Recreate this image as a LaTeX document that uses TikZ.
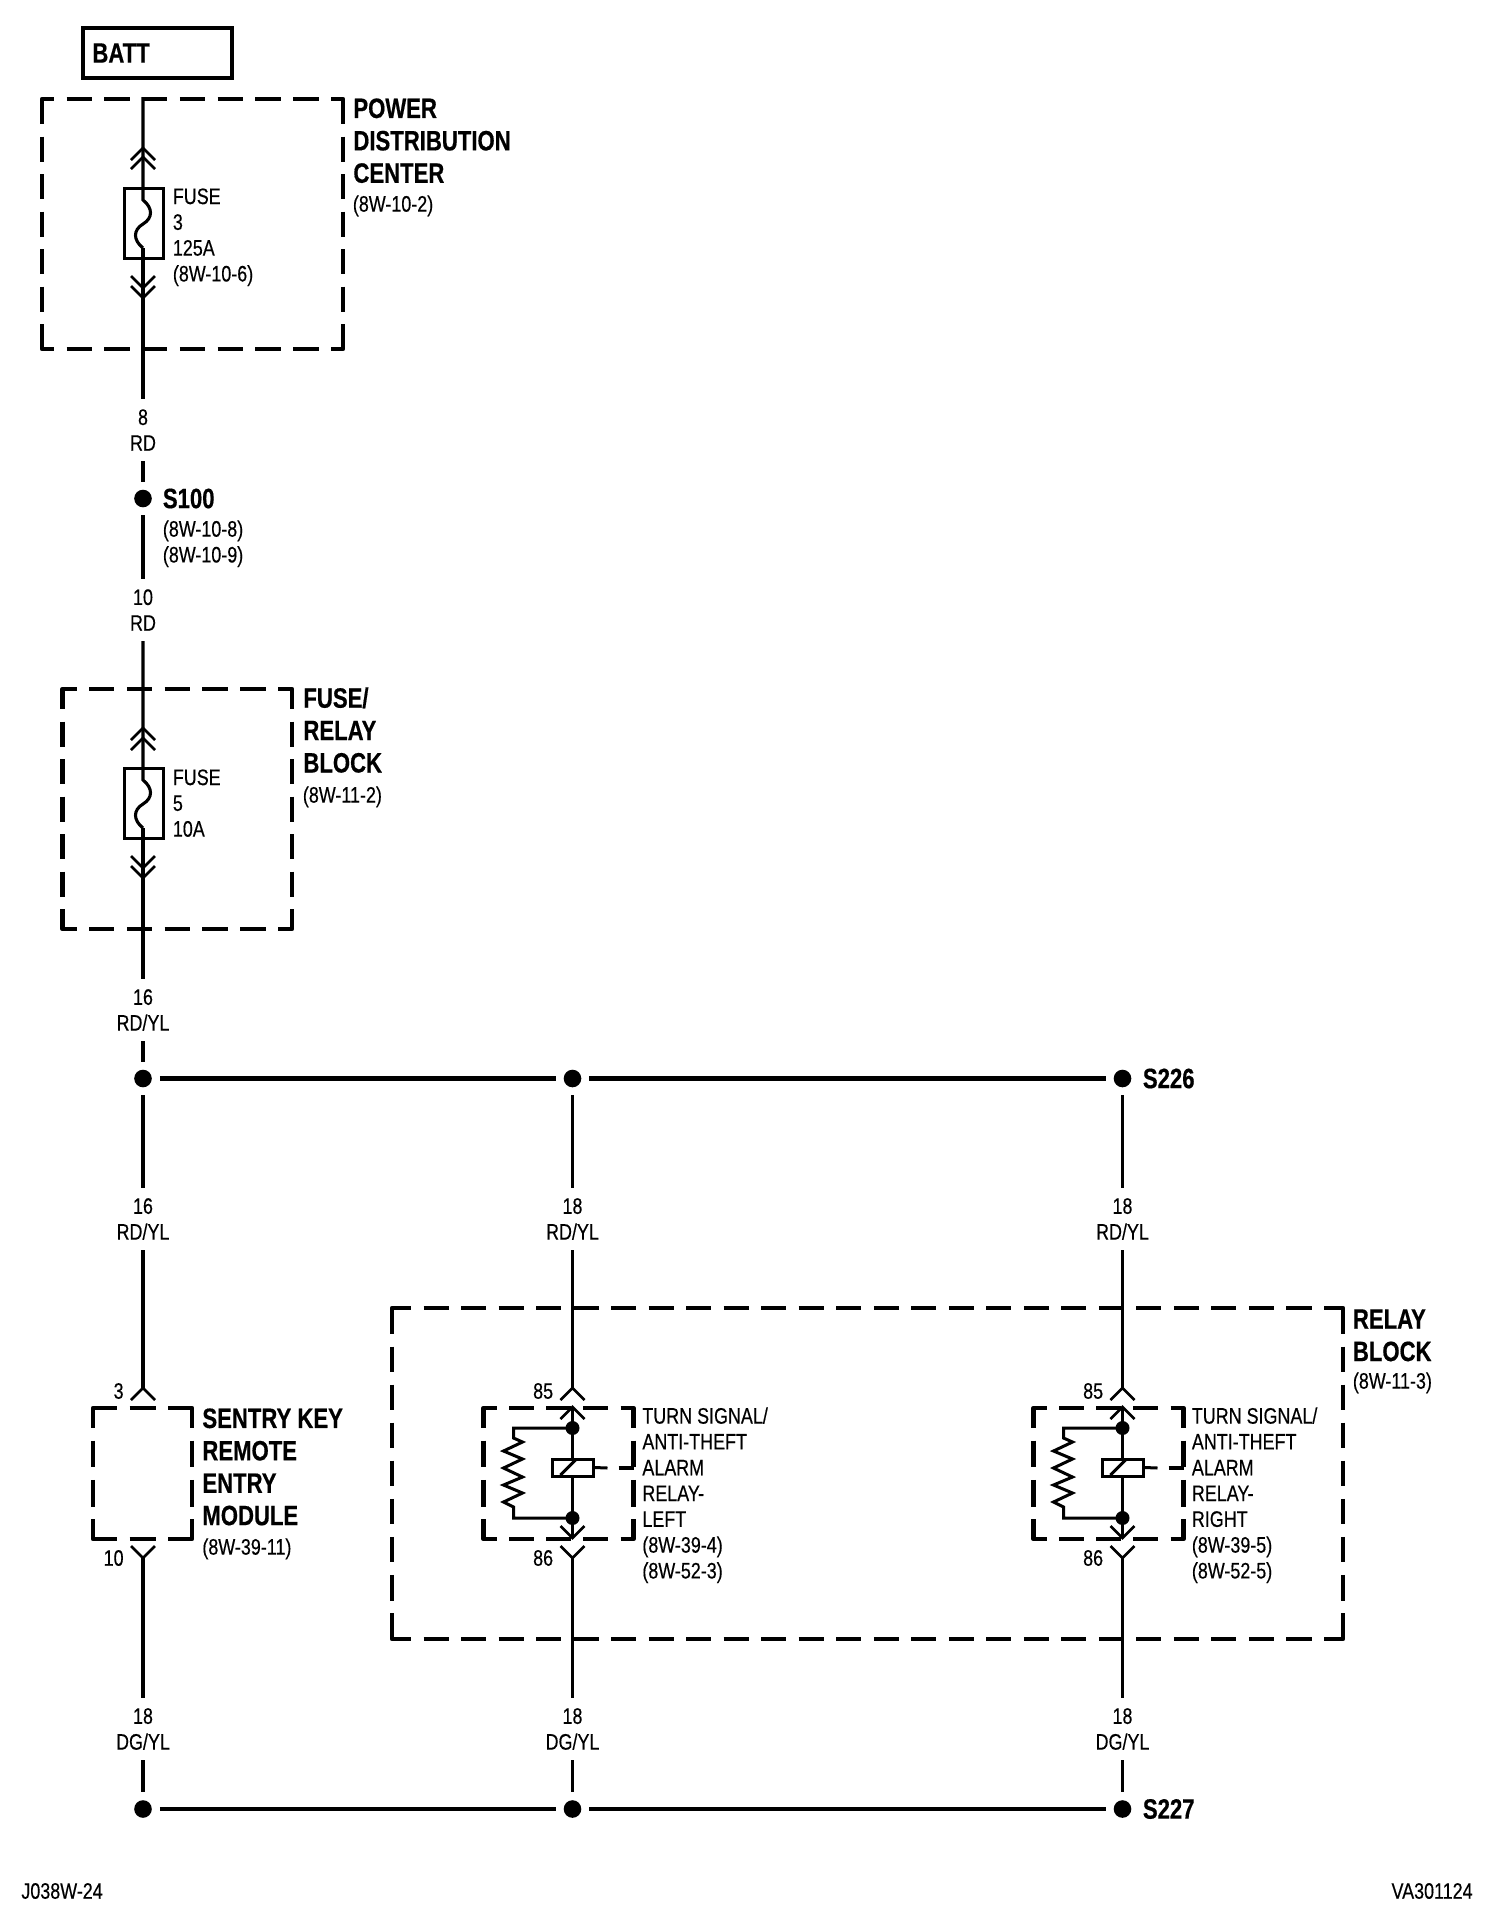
\documentclass[tikz,border=0pt]{standalone}
\usepackage{fontspec}
\setmainfont{Liberation Sans}[FakeStretch=0.8,FakeBold=0.35,BoldFeatures={FakeStretch=0.79,FakeBold=0.5}]
\newcommand{\regfont}{\fontsize{11.2}{12.9}\selectfont}
\newcommand{\headfont}{\fontsize{14}{16.2}\selectfont\bfseries}
\tikzset{
  wire/.style={line width=1.55pt,line cap=butt,line join=miter},
  bus/.style={line width=2.2pt},
  thin part/.style={line width=1.5pt,line join=miter},
  box edge/.style={line width=2.2pt},
  chevron/.style={line width=1.3pt,line join=miter},
  junction/.style={circle,fill=black,inner sep=0pt,minimum size=8.8pt,outer sep=4pt},
  tap/.style={circle,fill=black,inner sep=0pt,minimum size=7pt,outer sep=0pt},
  wirelabel/.style={font=\regfont,align=center,inner xsep=0pt,inner ysep=5pt},
  reglabel/.style={font=\regfont,align=left,inner sep=0pt,anchor=north west},
  headlabel/.style={font=\headfont,align=left,inner sep=0pt,anchor=north west},
  pinlabel/.style={font=\regfont,inner sep=0pt,anchor=east},
}
% x1 y1 x2 y2 nh nv armx army
\newcommand{\dashedbox}[8]{%
  \pgfmathsetmacro\dhp{0.5*(#3-#1-2*#7-(#5+1)*12.5)/#5}%
  \pgfmathsetmacro\dvp{0.5*(#4-#2-2*#8-(#6+1)*12.5)/#6}%
  \pgfmathsetmacro\phh{\dhp-0.5*#7}%
  \pgfmathsetmacro\phv{\dvp-0.5*#8}%
  \draw[box edge,dash pattern=on \dhp pt off 6.25pt,dash phase=\phh pt] (#1,#2)--(#3,#2) (#1,#4)--(#3,#4);
  \draw[box edge,dash pattern=on \dvp pt off 6.25pt,dash phase=\phv pt] (#1,#2)--(#1,#4) (#3,#2)--(#3,#4);
  \draw[box edge,line join=round] (#1,#2+4)--(#1,#2)--(#1+4,#2) (#3-4,#2)--(#3,#2)--(#3,#2+4)
     (#3,#4-4)--(#3,#4)--(#3-4,#4) (#1+4,#4)--(#1,#4)--(#1,#4-4);
}
\newcommand{\chevup}[2]{\draw[chevron] (#1-12,#2+12)--(#1,#2)--(#1+12,#2+12);}
\newcommand{\chevdown}[2]{\draw[chevron] (#1-12,#2-12)--(#1,#2)--(#1+12,#2-12);}
\begin{document}
\begin{tikzpicture}[x=0.5pt,y=-0.5pt]
\useasboundingbox (0,0) rectangle (1504,1908);
\fill[white] (0,0) rectangle (1504,1908);

% BATT
\draw[line width=2pt] (83,28) rectangle (232,78);
\node[font=\headfont,inner sep=0pt,anchor=west] (batt) at (92,53) {BATT};

% Power distribution centre
\dashedbox{42}{99}{343}{349}{7}{5}{12}{25}
\node[headlabel] (pdc) at (353,98) {POWER\\DISTRIBUTION\\CENTER};
\node[reglabel] (pdcref) at (352.5,195) {(8W-10-2)};
\draw[thin part] (124,188) rectangle (163,258);
\node[reglabel] (fuse3) at (172.5,188) {FUSE\\3\\125A\\(8W-10-6)};
\coordinate (a0) at (143,97);
\coordinate (a1) at (143,200);
\coordinate (a2) at (143,248);
\draw[wire] (a0)--(a1) .. controls (153,208) and (153,218) .. (143,224)
   .. controls (133,230) and (133,240) .. (a2);
\chevup{143}{148}\chevup{143}{157}
\chevdown{143}{288}\chevdown{143}{298}
\node[wirelabel] (w8) at (143,430) {8\\RD};
\draw[wire] (a2)--(w8.north);

% S100
\node[junction] (s100) at (143,498.5) {};
\node[font=\headfont,inner sep=0pt,anchor=west] (s100t) at (162.5,498.5) {S100};
\node[reglabel] (s100r) at (162.5,520) {(8W-10-8)\\(8W-10-9)};
\draw[wire] (w8.south)--(s100);
\node[wirelabel] (w10) at (143,610) {10\\RD};
\draw[wire] (s100)--(w10.north);

% Fuse / relay block
\dashedbox{62.5}{689}{292}{929}{5}{5}{14}{20}
\node[headlabel] (frb) at (303,687) {FUSE/\\RELAY\\BLOCK};
\node[reglabel] (frbref) at (302.5,786) {(8W-11-2)};
\draw[thin part] (124,768) rectangle (163,838);
\node[reglabel] (fuse5) at (172.5,769) {FUSE\\5\\10A};
\coordinate (b1) at (143,780);
\coordinate (b2) at (143,828);
\draw[wire] (w10.south)--(b1) .. controls (153,788) and (153,798) .. (143,804)
   .. controls (133,810) and (133,820) .. (b2);
\chevup{143}{728}\chevup{143}{738}
\chevdown{143}{868}\chevdown{143}{878}
\node[wirelabel] (w16a) at (143,1010) {16\\RD/YL};
\draw[wire] (b2)--(w16a.north);

% Upper bus
\node[junction] (j1) at (143,1078.5) {};
\node[junction] (j2) at (572.5,1078.5) {};
\node[junction] (j3) at (1122.5,1078.5) {};
\node[font=\headfont,inner sep=0pt,anchor=west] (s226) at (1142.5,1078.5) {S226};
\draw[wire] (w16a.south)--(j1);
\draw[bus] (j1)--(j2);
\draw[bus] (j2)--(j3);

% Lower bus
\node[junction] (k1) at (143,1809) {};
\node[junction] (k2) at (572.5,1809) {};
\node[junction] (k3) at (1122.5,1809) {};
\node[font=\headfont,inner sep=0pt,anchor=west] (s227) at (1142.5,1809) {S227};
\draw[bus] (k1)--(k2);
\draw[bus] (k2)--(k3);

% Sentry key module
\node[wirelabel] (w16b) at (143,1219) {16\\RD/YL};
\draw[wire] (j1)--(w16b.north);
\coordinate (c1) at (143,1388);
\coordinate (c2) at (143,1558);
\draw[wire] (w16b.south)--(c1);
\chevup{143}{1388}
\chevdown{143}{1558}
\dashedbox{93}{1408}{192}{1539}{1}{2}{24}{20}
\node[pinlabel] (p3) at (124,1391) {3};
\node[pinlabel] (p10) at (124,1558) {10};
\node[headlabel] (sk) at (202,1408) {SENTRY KEY\\REMOTE\\ENTRY\\MODULE};
\node[reglabel] (skref) at (202,1538) {(8W-39-11)};
\node[wirelabel] (w18a) at (143,1729) {18\\DG/YL};
\draw[wire] (c2)--(w18a.north);
\draw[wire] (w18a.south)--(k1);

% Relay block
\dashedbox{392}{1308}{1343}{1639}{24}{7}{19}{26}
\node[headlabel] (rb) at (1352.5,1309) {RELAY\\BLOCK};
\node[reglabel] (rbref) at (1352.5,1372) {(8W-11-3)};

% Relay units
\newcommand{\relayunit}[3]{%
\begin{scope}[shift={(#2,0)}]
  \node[wirelabel] (#1top) at (572,1219) {18\\RD/YL};
  \node[wirelabel] (#1bot) at (572,1729) {18\\DG/YL};
  \coordinate (#1in) at (572,1388);
  \coordinate (#1inb) at (572,1407);
  \coordinate (#1out) at (572,1538);
  \coordinate (#1outb) at (572,1558);
  \node[tap] (#1d1) at (572,1428) {};
  \node[tap] (#1d2) at (572,1518) {};
  \node[draw,thin part,inner sep=0pt,minimum width=20.5pt,minimum height=8.5pt] (#1coil) at (572,1467.5) {};
  \draw[wire] (#3) -- (#1top.north);
  \draw[wire] (#1top.south)--(#1in);
  \draw[wire] (#1inb)--(#1d1.center)--(#1coil.north);
  \draw[wire] (#1coil.south)--(#1d2.center)--(#1out);
  \draw[wire] (#1outb)--(#1bot.north);
  \chevup{572}{1388}\chevup{572}{1407}
  \chevdown{572}{1538}\chevdown{572}{1558}
  \draw[thin part] (#1d1.center)--(513,1428)--(513,1438)--(522,1442)--(503,1451)--(522,1459)--(503,1468)--(522,1477)--(503,1485)--(522,1493)--(503,1502)--(513,1507)--(513,1518)--(#1d2.center);
  \draw[thin part] (560,1475)--(575,1460);
  \draw[thin part] (#1coil.east)--(607,1468);
  \draw[box edge] (618,1468)--(633,1468);
  \dashedbox{483}{1408}{633}{1539}{3}{2}{13}{20}
  \node[pinlabel] (#1p85) at (553,1391) {85};
  \node[pinlabel] (#1p86) at (553,1558) {86};
\end{scope}}
\relayunit{l}{0.5}{j2}
\relayunit{r}{550.5}{j3}
\draw[wire] (lbot.south)--(k2);
\draw[wire] (rbot.south)--(k3);
\node[reglabel] (ltext) at (642,1407) {TURN SIGNAL/\\ANTI-THEFT\\ALARM\\RELAY-\\LEFT\\(8W-39-4)\\(8W-52-3)};
\node[reglabel] (rtext) at (1191.5,1407) {TURN SIGNAL/\\ANTI-THEFT\\ALARM\\RELAY-\\RIGHT\\(8W-39-5)\\(8W-52-5)};

% Footer
\node[font=\regfont,inner sep=0pt,anchor=west] (fl) at (21,1891) {J038W-24};
\node[font=\regfont,inner sep=0pt,anchor=east] (fr) at (1473,1891) {VA301124};
\end{tikzpicture}
\end{document}
